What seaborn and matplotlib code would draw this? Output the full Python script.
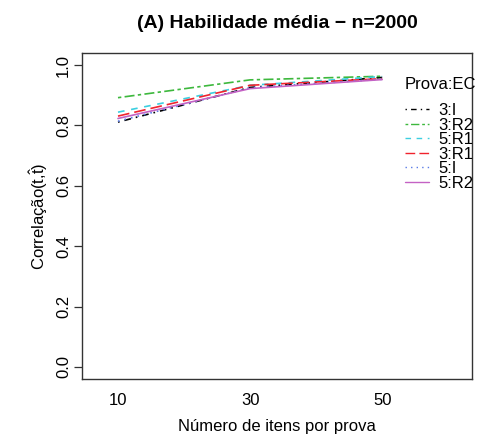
import matplotlib
matplotlib.use("Agg")
import matplotlib.pyplot as plt
import seaborn as sns
import pandas as pd
from matplotlib.lines import Line2D

# ---- data ----
n_itens = [10, 30, 50]
groups = ["3:I", "3:R2", "5:R1", "3:R1", "5:I", "5:R2"]
v_3I = [0.811, 0.926, 0.959]
v_3R2 = [0.892, 0.951, 0.963]
v_5R1 = [0.844, 0.933, 0.962]
v_3R1 = [0.831, 0.933, 0.955]
v_5I = [0.814, 0.925, 0.953]
v_5R2 = [0.823, 0.922, 0.952]
values = [v_3I, v_3R2, v_5R1, v_3R1, v_5I, v_5R2]
yticks = [0.0, 0.2, 0.4, 0.6, 0.8, 1.0]

rows = []
for g, vals in zip(groups, values):
    for x, v in zip(n_itens, vals):
        rows.append({"n": x, "cor": v, "grupo": g})
df = pd.DataFrame(rows)

colors = {"3:I": "#000000", "3:R2": "#3DB83D", "5:R1": "#3CCFE0",
          "3:R1": "#F0232D", "5:I": "#5A7BE6", "5:R2": "#C462C4"}
dashes = {"3:I": (1, 3, 4, 3), "3:R2": (2, 2, 6, 2), "5:R1": (4, 4),
          "3:R1": (7, 3), "5:I": (1, 3), "5:R2": ""}

sns.set_style("white")
plt.rcParams["font.family"] = ["Liberation Sans", "DejaVu Sans"]
plt.rcParams["mathtext.fontset"] = "custom"
plt.rcParams["mathtext.rm"] = "Liberation Sans"
plt.rcParams["mathtext.it"] = "Liberation Sans"
plt.rcParams["text.color"] = "black"
plt.rcParams["axes.labelcolor"] = "black"
plt.rcParams["xtick.color"] = "black"
plt.rcParams["ytick.color"] = "black"

fig = plt.figure(figsize=(4.79, 4.40), dpi=100)
ax = fig.add_axes([82/479, 1-379/440, (472-82)/479, (379-53)/440])

sns.lineplot(data=df, x="n", y="cor", hue="grupo", style="grupo",
             hue_order=groups, style_order=groups, palette=colors,
             dashes=dashes, linewidth=1.2, ax=ax, legend=False)

ax.set_xlim(4.55, 63.6)
ax.set_ylim(-0.04, 1.04)
ax.set_xticks(n_itens)
ax.set_xticklabels([str(v) for v in n_itens], fontsize=12)
ax.set_yticks(yticks)
ax.set_yticklabels([f"{v:.1f}" for v in yticks], fontsize=12, rotation=90, va="center")
ax.tick_params(axis="y", length=6, width=0.9, color="#333333", pad=2, left=True)
ax.tick_params(axis="x", length=0, pad=10)
for s in ax.spines.values():
    s.set_color("#333333")
    s.set_linewidth(1.0)
ax.set_xlabel("Número de itens por prova", fontsize=12, labelpad=8)
ax.set_ylabel("Correlação(t,$\\hat{\\mathrm{t}}$)", fontsize=12, labelpad=4)
ax.set_title("(A) Habilidade média \u2212 n=2000", fontsize=14, fontweight="bold", pad=18)

handles = [Line2D([], [], color=colors[g], linestyle=(0, dashes[g]) if dashes[g] else "-",
                  linewidth=1.0) for g in groups]
leg = ax.legend(handles, groups, title="Prova:EC", loc="upper left",
                bbox_to_anchor=(405/479, 1-77/440), bbox_transform=fig.transFigure,
                frameon=False, fontsize=12, title_fontsize=12, handlelength=1.45,
                handletextpad=0.55, labelspacing=-0.03, alignment="left", borderpad=0,
                borderaxespad=0)
leg._legend_box.sep = 8

fig.savefig("out.png", dpi=100)
